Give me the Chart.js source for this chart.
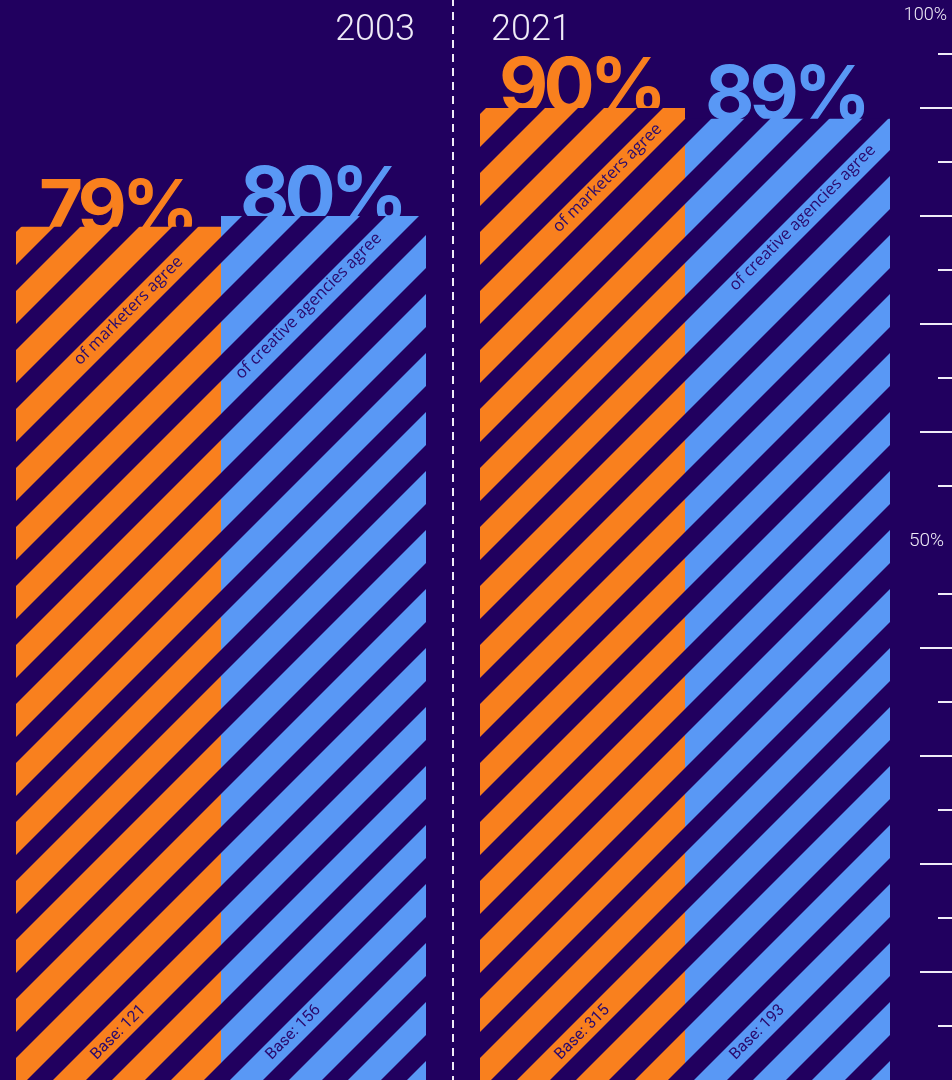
<!DOCTYPE html>
<html>
<head>
<meta charset="utf-8">
<title>Agreement 2003 vs 2021</title>
<script src="https://cdn.jsdelivr.net/npm/chart.js@4.4.1/dist/chart.umd.min.js"></script>
<style>
  html, body { margin: 0; padding: 0; background: #21005f; overflow: hidden; }
  #wrap { position: relative; width: 952px; height: 1080px; overflow: hidden; background: #21005f; }
  #wrap canvas { position: absolute; left: -11px; top: 0; }
</style>
</head>
<body>
<div id="wrap"><canvas id="chart" width="963" height="1080"></canvas></div>
<script>
// ---- data ----
const years = ['2003', '2021'];
const marketers = [79, 90];
const agencies = [80, 89];
const marketerBases = [121, 315];
const agencyBases = [156, 193];
const captions = ['of marketers agree', 'of creative agencies agree'];
const majorTicks = [10, 20, 30, 40, 60, 70, 80, 90];
const minorTicks = [5, 15, 25, 35, 45, 55, 65, 75, 85, 95];
const axisLabelValues = [100, 50];
const axisLabelTexts = ['100%', '50%'];

// ---- styling ----
const BG = '#21005f';
const ORANGE = '#f9801e';
const BLUE = '#5998f5';
const INK = '#2a0a6e';
const LIGHT = '#efebf7';

// hand-tuned placement of the in-bar captions, per [dataset][category]
const captionShift = [[[10, 84], [25, 70]], [[-15, 90], [15, 99]]];
const valueShift = [[7, 4], [5, 1]];
const baseShiftX = [0, -30];

// diagonal stripe fill: coloured band + background band at 45 degrees
function stripes(color) {
  const P = 59, start = 29, band = 26;
  const c = document.createElement('canvas');
  c.width = P; c.height = P;
  const g = c.getContext('2d');
  g.fillStyle = color;
  g.fillRect(0, 0, P, P);
  g.fillStyle = BG;
  for (let k = -2; k <= 2; k++) {
    const s = start + k * P;
    g.beginPath();
    g.moveTo(s + 2, -2);
    g.lineTo(s + band + 2, -2);
    g.lineTo(s + band - P - 2, P + 2);
    g.lineTo(s - P - 2, P + 2);
    g.closePath();
    g.fill();
  }
  return document.getElementById('chart').getContext('2d').createPattern(c, 'repeat');
}

// one pattern per bar so every year group starts its stripes at its own left edge
const fills = [
  years.map(() => stripes(ORANGE)),
  years.map(() => stripes(BLUE))
];

const decor = {
  id: 'decor',
  beforeDatasetsDraw(chart) {
    const ctx = chart.ctx;
    const xs = chart.scales.x;

    // anchor the stripes of each group at the group's left edge
    chart.getDatasetMeta(0).data.forEach((bar, ci) => {
      const left = bar.x - bar.width / 2;
      fills.forEach(row => row[ci].setTransform(new DOMMatrix([1, 0, 0, 1, left, 0])));
    });

    // dashed divider between the two years
    const midX = Math.round(xs.getPixelForValue(0.5));
    ctx.save();
    ctx.strokeStyle = LIGHT;
    ctx.lineWidth = 2;
    ctx.setLineDash([8, 6]);
    ctx.lineDashOffset = 2;
    ctx.beginPath();
    ctx.moveTo(midX, 0);
    ctx.lineTo(midX, chart.height);
    ctx.stroke();
    ctx.restore();

    // big value labels sit behind the bars so the stripes cut their feet
    ctx.save();
    ctx.font = '700 76px Inter, "Open Sans", sans-serif';
    ctx.textAlign = 'center';
    ctx.textBaseline = 'alphabetic';
    try { ctx.letterSpacing = '-5px'; } catch (e) {}
    chart.data.datasets.forEach((ds, di) => {
      chart.getDatasetMeta(di).data.forEach((bar, ci) => {
        ctx.fillStyle = di === 0 ? ORANGE : BLUE;
        ctx.fillText(ds.data[ci] + '%', bar.x - 2, bar.y + valueShift[di][ci]);
      });
    });
    ctx.restore();
  },
  afterDatasetsDraw(chart) {
    const ctx = chart.ctx;
    const xs = chart.scales.x, ys = chart.scales.y;
    const area = chart.chartArea;
    const bases = [marketerBases, agencyBases];

    chart.data.datasets.forEach((ds, di) => {
      chart.getDatasetMeta(di).data.forEach((bar, ci) => {
        // caption along the stripes
        ctx.save();
        ctx.translate(bar.x + captionShift[di][ci][0], bar.y + captionShift[di][ci][1]);
        ctx.rotate(-Math.PI / 4);
        ctx.font = '500 16.5px "Open Sans", Lato, sans-serif';
        ctx.fillStyle = INK;
        ctx.textAlign = 'center';
        ctx.textBaseline = 'middle';
        ctx.fillText(captions[di], 0, 0);
        ctx.restore();

        // sample size near the foot of the bar
        ctx.save();
        ctx.translate(bar.x + baseShiftX[di], ys.getPixelForValue(4.4));
        ctx.rotate(-Math.PI / 4);
        ctx.font = '400 16px Roboto, sans-serif';
        ctx.fillStyle = INK;
        ctx.textAlign = 'center';
        ctx.textBaseline = 'middle';
        ctx.fillText('Base: ' + bases[di][ci], 0, 0);
        ctx.restore();
      });
    });

    // year headings either side of the divider
    const midX = xs.getPixelForValue(0.5);
    ctx.save();
    ctx.font = '300 36px Roboto, sans-serif';
    ctx.fillStyle = LIGHT;
    ctx.textBaseline = 'middle';
    ctx.textAlign = 'right';
    ctx.fillText(years[0], midX - 38, 31);
    ctx.textAlign = 'left';
    ctx.fillText(years[1], midX + 38, 31);
    ctx.restore();

    // percentage axis on the right edge
    ctx.save();
    ctx.strokeStyle = LIGHT;
    ctx.lineWidth = 2;
    const edge = chart.width;
    majorTicks.forEach(v => {
      const y = Math.round(ys.getPixelForValue(v));
      ctx.beginPath(); ctx.moveTo(area.right + 3, y); ctx.lineTo(edge, y); ctx.stroke();
    });
    minorTicks.forEach(v => {
      const y = Math.round(ys.getPixelForValue(v));
      ctx.beginPath(); ctx.moveTo(area.right + 21, y); ctx.lineTo(edge, y); ctx.stroke();
    });
    ctx.font = '300 18px Roboto, sans-serif';
    ctx.fillStyle = LIGHT;
    ctx.textAlign = 'right';
    axisLabelValues.forEach((v, i) => {
      const y = ys.getPixelForValue(v);
      if (y < 20) {
        ctx.textBaseline = 'top';
        ctx.fillText(axisLabelTexts[i], edge - 5, y + 6);
      } else {
        ctx.font = '300 19px Roboto, sans-serif';
        ctx.textBaseline = 'middle';
        ctx.fillText(axisLabelTexts[i], edge - 8, y + 1);
      }
    });
    ctx.restore();
  }
};

new Chart(document.getElementById('chart'), {
  type: 'bar',
  data: {
    labels: years,
    datasets: [
      { label: 'Marketers', data: marketers, backgroundColor: fills[0], borderWidth: 0 },
      { label: 'Creative agencies', data: agencies, backgroundColor: fills[1], borderWidth: 0 }
    ]
  },
  options: {
    responsive: false,
    animation: false,
    devicePixelRatio: 1,
    layout: { padding: { left: 0, right: 35, top: 0, bottom: 0 } },
    datasets: { bar: { barPercentage: 1, categoryPercentage: 410 / 464 } },
    scales: {
      x: { display: false, offset: true },
      y: { display: false, min: 0, max: 100 }
    },
    plugins: { legend: { display: false }, tooltip: { enabled: false } }
  },
  plugins: [decor]
});
</script>
</body>
</html>
